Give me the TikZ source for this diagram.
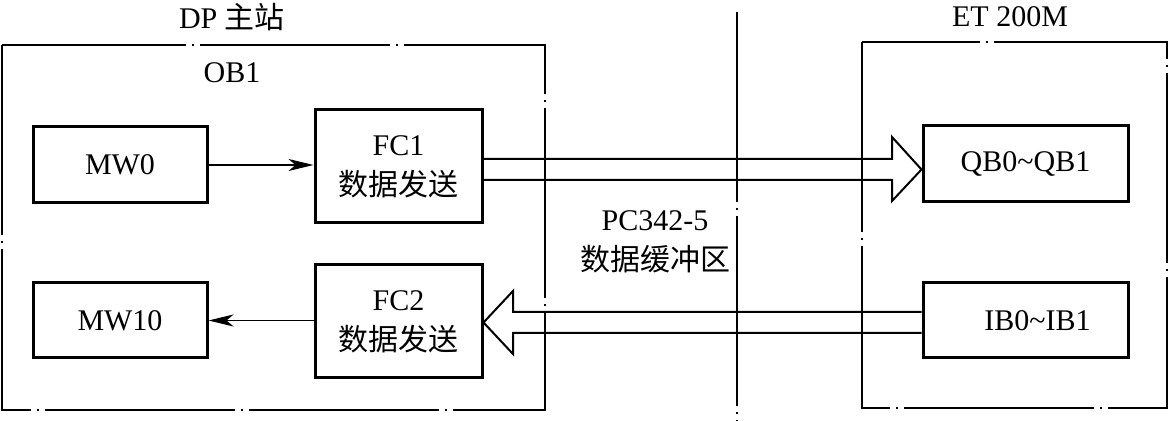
\documentclass[tikz,border=0pt]{standalone}
\usepackage{fontspec}
\setmainfont{Liberation Serif}
\newfontfamily\cjk{Noto Sans CJK SC}
\usetikzlibrary{arrows.meta, positioning, calc}

\begin{document}
\begin{tikzpicture}[
  x=0.5pt, y=-0.5pt,
  blk/.style={draw=black, line width=1.5pt, align=center, inner sep=0pt, font=\fontsize{15}{20}\selectfont},
  frame/.style={line width=1pt, dash pattern=on 95pt off 3pt on 1pt off 3pt},
  pipe/.style={line width=1pt, line join=miter},
  link/.style={line width=0.8pt, -{Stealth[length=12.5pt, width=6pt, inset=3.5pt]}},
  lbl/.style={font=\fontsize{15}{20}\selectfont, align=center, inner sep=0pt}
]
\useasboundingbox (0,0) rectangle (1170,421);

% station frames and split line
\draw[frame] (2,45) rectangle (545,410);
\draw[frame] (862,42) rectangle (1167,408);
\draw[frame] (737,12) -- (737,421);

\node[lbl] (dp) at (232,17) {DP {\cjk 主站}};
\node[lbl] (et) at (1010,17) {ET 200M};
\node[lbl] (ob1) at (232,73) {OB1};

% blocks
\node[blk, minimum width=87pt, minimum height=38pt] (mw0) at (120,165) {MW0};
\node[blk, minimum width=87pt, minimum height=37.5pt] (mw10) at (120,320.5) {MW10};
\node[blk, minimum width=83.5pt, minimum height=56.5pt] (fc1) at (398.5,166.5) {FC1\\{\cjk 数据发送}};
\node[blk, minimum width=83.5pt, minimum height=56.5pt] (fc2) at (398.5,321.5) {FC2\\{\cjk 数据发送}};
\node[blk, minimum width=102.5pt, minimum height=38pt] (qb) at (1025.5,164) {QB0\textasciitilde QB1};
\node[blk, minimum width=102.5pt, minimum height=37.5pt] (ib) at (1025.5,320.5) {\hspace{12pt}IB0\textasciitilde IB1};

\node[lbl] (buf) at (655,242) {PC342-5\\{\cjk 数据缓冲区}};

% program links
\draw[link] (mw0) -- (fc1.west |- mw0);
\draw[link] (fc2.west |- mw10) -- (mw10);

% data transfer arrows
\coordinate (a1) at (0,159);
\coordinate (a2) at (0,180);
\coordinate (b1) at (0,312);
\coordinate (b2) at (0,333);
\draw[pipe] (fc1.east |- a1) -- (892,159) -- (892,137) -- ($(qb.west)+(0,5.5)$)
  -- (892,201) -- (892,180) -- (fc1.east |- a2);
\draw[pipe] (ib.west |- b1) -- (513,312) -- (513,291) -- ($(fc2.east)+(0,1)$)
  -- (513,354) -- (513,333) -- (ib.west |- b2);
\end{tikzpicture}
\end{document}
